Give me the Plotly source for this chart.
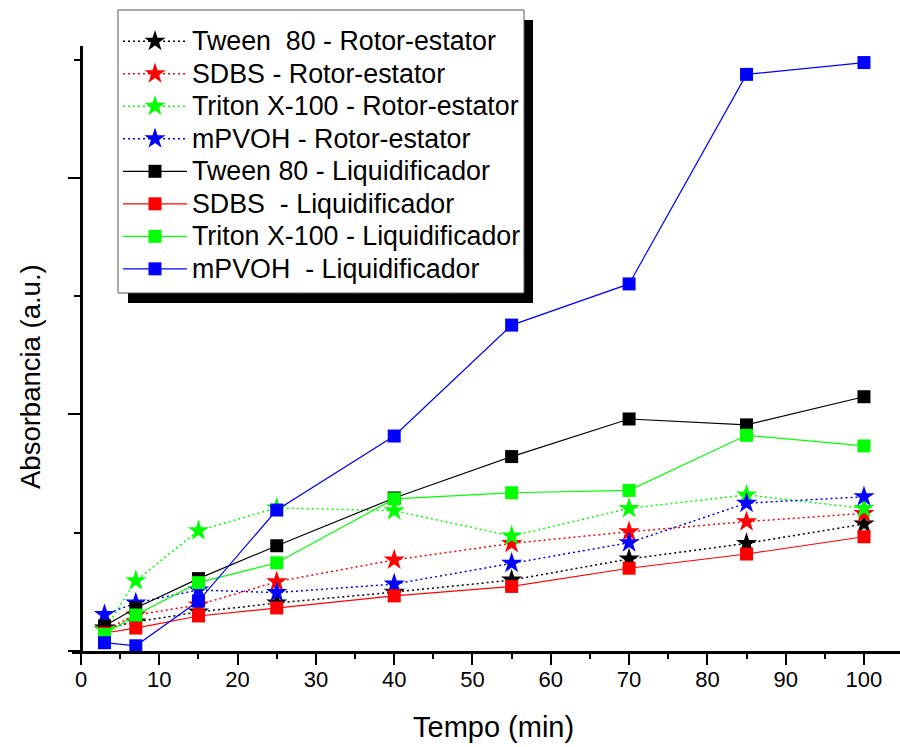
import plotly.graph_objects as go

# Time points (min)
tempo = [3, 7, 15, 25, 40, 55, 70, 85, 100]

# Rotor-estator series (dotted lines, star markers)
tween_re = [0.097, 0.123, 0.165, 0.203, 0.249, 0.300, 0.389, 0.455, 0.537]
sdbs_re = [0.089, 0.152, 0.195, 0.293, 0.385, 0.455, 0.504, 0.547, 0.582]
triton_re = [0.089, 0.297, 0.509, 0.605, 0.593, 0.486, 0.603, 0.660, 0.603]
mpvoh_re = [0.154, 0.203, 0.258, 0.247, 0.283, 0.371, 0.458, 0.625, 0.652]

# Liquidificador series (solid lines, square markers)
tween_liq = [0.106, 0.182, 0.306, 0.445, 0.647, 0.822, 0.981, 0.956, 1.075]
sdbs_liq = [0.076, 0.097, 0.148, 0.182, 0.233, 0.273, 0.350, 0.410, 0.483]
triton_liq = [0.070, 0.152, 0.289, 0.373, 0.643, 0.669, 0.679, 0.912, 0.867]
mpvoh_liq = [0.035, 0.022, 0.211, 0.596, 0.909, 1.378, 1.552, 2.438, 2.488]

names_re = ["Tween  80 - Rotor-estator", "SDBS - Rotor-estator",
            "Triton X-100 - Rotor-estator", "mPVOH - Rotor-estator"]
names_liq = ["Tween 80 - Liquidificador", "SDBS  - Liquidificador",
             "Triton X-100 - Liquidificador", "mPVOH  - Liquidificador"]
colors = ["#000000", "#ff0000", "#00ff00", "#0000ff"]

W, H = 900, 747
ML, MR, MT, MB = 72, 0, 46, 96
PW, PH = W - ML - MR, H - MT - MB
X0, X1 = -1.15, 104.6
Y0, Y1 = 0, 2.558

def px_x(p):
    return (p - ML) / PW

def px_y(p):
    return (H - MB - p) / PH

def big(s):
    return '<span style="font-size:26.8px">' + s.replace("  ", "&nbsp; ") + "</span>"

fig = go.Figure()
for name, ys, c in zip(names_re, [tween_re, sdbs_re, triton_re, mpvoh_re], colors):
    fig.add_trace(go.Scatter(
        x=tempo, y=ys, name=big(name), mode="lines+markers",
        line=dict(color=c, width=1.5, dash="2px,3px"),
        marker=dict(symbol="star", size=16, color=c, line=dict(width=0)),
        cliponaxis=False))
for name, ys, c in zip(names_liq, [tween_liq, sdbs_liq, triton_liq, mpvoh_liq], colors):
    fig.add_trace(go.Scatter(
        x=tempo, y=ys, name=big(name), mode="lines+markers",
        line=dict(color=c, width=1.2),
        marker=dict(symbol="square", size=13, color=c, line=dict(width=0)),
        cliponaxis=False))

font = "Liberation Sans, Arial, sans-serif"

fig.update_layout(
    width=W, height=H,
    margin=dict(l=ML, r=MR, t=MT, b=MB, pad=0),
    paper_bgcolor="white", plot_bgcolor="white",
    font=dict(family=font, color="black"),
    showlegend=True,
    legend=dict(
        x=px_x(118), y=px_y(20), xanchor="left", yanchor="top",
        bgcolor="rgba(0,0,0,0)", borderwidth=0,
        font=dict(family=font, size=22.7, color="black"),
        itemwidth=64, tracegroupgap=0,
    ),
    xaxis=dict(
        range=[X0, X1], showgrid=False, zeroline=False,
        showline=True, linecolor="black", linewidth=2.5,
        ticks="outside", ticklen=11, tickwidth=2, tickcolor="black",
        tickvals=list(range(0, 101, 10)), ticklabelstandoff=-4,
        tickfont=dict(family=font, size=22, color="black"),
        minor=dict(tickvals=list(range(5, 100, 10)), ticks="outside",
                   ticklen=5, tickwidth=2, tickcolor="black"),
    ),
    yaxis=dict(
        range=[Y0, Y1], showgrid=False, zeroline=False,
        anchor="free", position=(81 - ML) / PW,
        showline=True, linecolor="black", linewidth=2.5,
        ticks="outside", ticklen=12, tickwidth=2, tickcolor="black",
        tickvals=[0, 1, 2], showticklabels=False,
        minor=dict(tickvals=[0.5, 1.5, 2.5], ticks="outside",
                   ticklen=6, tickwidth=2, tickcolor="black"),
    ),
    shapes=[
        dict(type="rect", xref="paper", yref="paper",
             x0=px_x(128), x1=px_x(533), y0=px_y(303), y1=px_y(20),
             fillcolor="black", line=dict(width=0), layer="above"),
        dict(type="rect", xref="paper", yref="paper",
             x0=px_x(118), x1=px_x(524), y0=px_y(293), y1=px_y(10),
             fillcolor="white", line=dict(width=1, color="#555555"),
             layer="above"),
    ],
    annotations=[
        dict(text="Tempo (min)", xref="paper", yref="paper",
             x=px_x(493), y=px_y(727), xanchor="center", yanchor="middle",
             showarrow=False, font=dict(family=font, size=29, color="black")),
        dict(text="Absorbancia (a.u.)", xref="paper", yref="paper",
             x=px_x(30), y=px_y(377), xanchor="center", yanchor="middle",
             textangle=-90, showarrow=False,
             font=dict(family=font, size=27.5, color="black")),
    ],
)

fig.write_html("out.html")
